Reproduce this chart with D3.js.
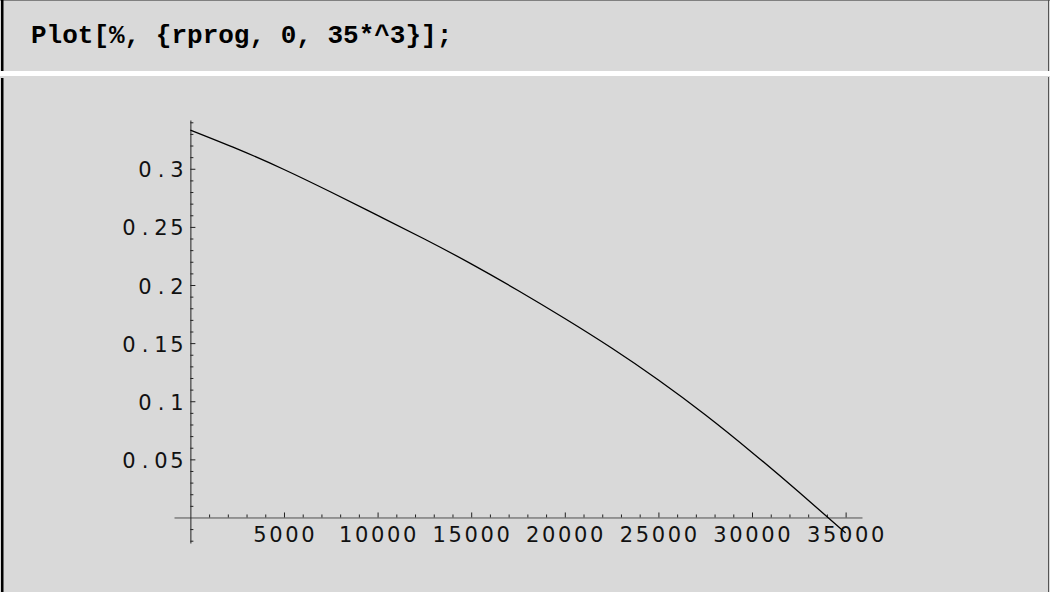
<!DOCTYPE html>
<html>
<head>
    <meta charset="utf-8">
    <script src="https://d3js.org/d3.v7.min.js"></script>
    <style>
        body { margin: 0; background: #fff; }
    </style>
</head>
<body>
    <div id="my_dataviz"></div>
    <script>
        // values (rprog -> f)
        var rprog = [0, 2500, 5000, 7500, 10000, 12500, 15000, 17500, 20000, 22500, 25000, 27500, 30000, 32500, 35000];
        var fval = [0.3333, 0.3171, 0.2994, 0.2800, 0.2599, 0.2396, 0.2182, 0.1953, 0.1712, 0.1458, 0.1183, 0.0884, 0.0560, 0.0219, -0.0133];

        var xMajor = [5000, 10000, 15000, 20000, 25000, 30000, 35000];
        var xMinor = d3.range(1000, 35001, 1000).filter(d => d % 5000 !== 0);
        var yMajor = [0.05, 0.1, 0.15, 0.2, 0.25, 0.3];
        var yMinor = d3.range(-2, 35).map(d => d / 100).filter(d => Math.round(d * 100) % 5 !== 0);
        var xLabels = ["5000", "10000", "15000", "20000", "25000", "30000", "35000"];
        var yLabels = ["0.05", "0.1", "0.15", "0.2", "0.25", "0.3"];

        var width = 1050;
        var height = 592;
        var bg = "#d9d9d9";

        var svg = d3.select("#my_dataviz")
            .append("svg")
            .attr("width", width)
            .attr("height", height)
            .style("display", "block");

        // input cell
        svg.append("rect").attr("x", 0).attr("y", 0).attr("width", width).attr("height", 71).attr("fill", bg);
        svg.append("line").attr("x1", 0).attr("x2", width).attr("y1", 0.5).attr("y2", 0.5).attr("stroke", "#808080");
        svg.append("line").attr("x1", 1048.5).attr("x2", 1048.5).attr("y1", 0).attr("y2", 71).attr("stroke", "#555");
        svg.append("rect").attr("x", 1).attr("y", 0).attr("width", 2.5).attr("height", 71).attr("fill", "#000");

        svg.append("text")
            .attr("x", 31)
            .attr("y", 43)
            .style("font-family", "'Courier New', 'Liberation Mono', monospace")
            .style("font-weight", "bold")
            .style("font-size", "26px")
            .attr("fill", "#000")
            .text("Plot[%, {rprog, 0, 35*^3}];");

        // output cell
        svg.append("rect").attr("x", 0).attr("y", 76).attr("width", width).attr("height", height - 76).attr("fill", bg);
        svg.append("line").attr("x1", 1048.5).attr("x2", 1048.5).attr("y1", 77).attr("y2", height).attr("stroke", "#555");
        svg.append("rect").attr("x", 1).attr("y", 78).attr("width", 2.5).attr("height", height - 78).attr("fill", "#000");

        // plot range with mathematica style padding
        var xPad = 0.025 * (d3.max(rprog) - d3.min(rprog));
        var yExt = d3.extent(fval);
        var yPad = 0.025 * (yExt[1] - yExt[0]);

        var x = d3.scaleLinear()
            .domain([d3.min(rprog) - xPad, d3.max(rprog) + xPad])
            .range([174, 862]);
        var y = d3.scaleLinear()
            .domain([yExt[0] - yPad, yExt[1] + yPad])
            .range([543, 120]);

        var x0 = x(0);
        var y0 = y(0);

        // x axis (ticks pointing up)
        var gx = svg.append("g").attr("transform", "translate(0," + y0 + ")");
        gx.call(d3.axisBottom(x).tickValues(xMajor).tickSize(-5).tickSizeOuter(0).tickFormat(""));
        gx.append("g").call(d3.axisBottom(x).tickValues(xMinor).tickSize(-3).tickSizeOuter(0).tickFormat(""))
            .select(".domain").remove();
        gx.selectAll(".domain").attr("stroke", "#505050");
        gx.selectAll(".tick line").attr("stroke", "#222");

        // y axis (ticks pointing right)
        var gy = svg.append("g").attr("transform", "translate(" + x0 + ",0)");
        gy.call(d3.axisLeft(y).tickValues(yMajor).tickSize(-5).tickSizeOuter(0).tickFormat(""));
        gy.append("g").call(d3.axisLeft(y).tickValues(yMinor).tickSize(-3).tickSizeOuter(0).tickFormat(""))
            .select(".domain").remove();
        gy.selectAll(".domain").attr("stroke", "#222");
        gy.selectAll(".tick line").attr("stroke", "#222");

        // labels with fixed character cells like the original
        var cell = 16;
        function monoLabel(str, firstCenter, baseline) {
            var t = svg.append("text")
                .attr("y", baseline)
                .style("font-family", "'DejaVu Sans', sans-serif")
                .style("font-size", "21px")
                .attr("fill", "#111")
                .attr("text-anchor", "middle");
            str.split("").forEach(function (c, i) {
                t.append("tspan").attr("x", firstCenter + i * cell).text(c);
            });
        }

        xMajor.forEach(function (v, i) {
            var s = xLabels[i];
            var first = x(v) - (s.length - 1) * cell / 2;
            monoLabel(s, first, y0 + 25);
        });
        yMajor.forEach(function (v, i) {
            var s = yLabels[i];
            var first = 177 - (s.length - 1) * cell;
            monoLabel(s, first, y(v) + 8.5);
        });

        // the curve
        var line = d3.line()
            .x((d, i) => x(rprog[i]))
            .y(d => y(d))
            .curve(d3.curveNatural);

        svg.append("path")
            .datum(fval)
            .attr("fill", "none")
            .attr("stroke", "#000")
            .attr("stroke-width", 1.3)
            .attr("d", line);
    </script>
</body>
</html>
